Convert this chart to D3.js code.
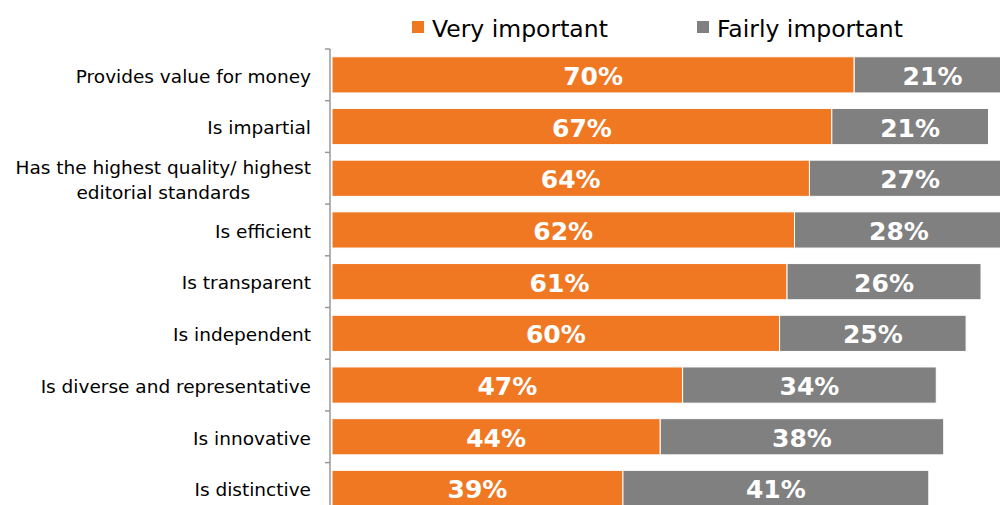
<!DOCTYPE html>
<html>
<head>
<meta charset="utf-8">
<script src="https://cdn.jsdelivr.net/npm/d3@7"></script>
<style>
  body { margin: 0; background: #fff; }
  svg { display: block; font-family: 'DejaVu Sans', Verdana, sans-serif; }
</style>
</head>
<body>
<svg id="chart" width="1000" height="505"></svg>
<script>
// categories, top to bottom
const categories = [
  'Provides value for money',
  'Is impartial',
  'Has the highest quality/ highest\neditorial standards',
  'Is efficient',
  'Is transparent',
  'Is independent',
  'Is diverse and representative',
  'Is innovative',
  'Is distinctive'
];
const veryImportant = [70, 67, 64, 62, 61, 60, 47, 44, 39];
const fairlyImportant = [21, 21, 27, 28, 26, 25, 34, 38, 41];
const seriesNames = ['Very important', 'Fairly important'];
const colors = ['#F07823', '#808080'];

const svg = d3.select('#chart');

const x = d3.scaleLinear().domain([0, 100]).range([332, 1078]);
const y = d3.scaleBand().domain(categories).range([49, 49 + 9 * 51.7]).paddingInner(0.3).paddingOuter(0.15);

// bars
const rows = categories.map((c, i) => ({ cat: c, v: veryImportant[i], f: fairlyImportant[i] }));

const g = svg.append('g');
rows.forEach(d => {
  const segs = [
    { start: 0, val: d.v, color: colors[0] },
    { start: d.v, val: d.f, color: colors[1] }
  ];
  segs.forEach(s => {
    g.append('rect')
      .attr('x', x(s.start))
      .attr('y', y(d.cat))
      .attr('width', x(s.start + s.val) - x(s.start))
      .attr('height', y.bandwidth())
      .attr('fill', s.color)
      .attr('stroke', '#fff')
      .attr('stroke-width', 1);
    g.append('text')
      .attr('x', (x(s.start) + x(s.start + s.val)) / 2)
      .attr('y', y(d.cat) + y.bandwidth() / 2)
      .attr('dy', '0.4em')
      .attr('text-anchor', 'middle')
      .attr('fill', '#fff')
      .attr('font-weight', 'bold')
      .attr('font-size', 25)
      .text(s.val + '%');
  });
});

// axis line + ticks at band boundaries
const axisX = 330;
const y0 = y.range()[0], step = y.step();
svg.append('line')
  .attr('x1', axisX).attr('x2', axisX)
  .attr('y1', y0).attr('y2', y0 + step * categories.length)
  .attr('stroke', '#999').attr('stroke-width', 1.5);
d3.range(categories.length + 1).forEach(i => {
  svg.append('line')
    .attr('x1', axisX - 5).attr('x2', axisX)
    .attr('y1', y0 + i * step).attr('y2', y0 + i * step)
    .attr('stroke', '#999').attr('stroke-width', 1.5);
});

// category labels
const labelRight = 311;
categories.forEach(c => {
  const lines = c.split('\n');
  const cy = y(c) + y.bandwidth() / 2;
  const lh = 25;
  const t = svg.append('text')
    .attr('font-size', 18.5)
    .attr('fill', '#000');
  const spans = lines.map((ln, j) => t.append('tspan')
    .attr('x', labelRight)
    .attr('text-anchor', 'end')
    .attr('y', cy + (j - (lines.length - 1) / 2) * lh)
    .attr('dy', '0.42em')
    .text(ln));
  if (lines.length > 1) {
    const w = d3.max(spans, s => s.node().getComputedTextLength());
    spans.forEach(s => s.attr('text-anchor', 'middle').attr('x', labelRight - w / 2));
  }
});

// legend
const legendX = [412, 697];
seriesNames.forEach((n, i) => {
  svg.append('rect')
    .attr('x', legendX[i]).attr('y', 21)
    .attr('width', 12).attr('height', 12)
    .attr('fill', colors[i]);
  svg.append('text')
    .attr('x', legendX[i] + 20).attr('y', 37)
    .attr('font-size', 23.5)
    .attr('fill', '#000')
    .text(n);
});
</script>
</body>
</html>
